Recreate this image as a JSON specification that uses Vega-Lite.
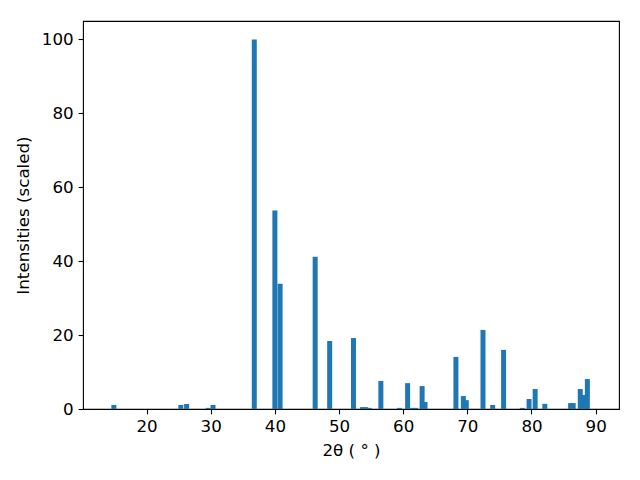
{
  "$schema": "https://vega.github.io/schema/vega-lite/v6.json",
  "width": 536,
  "height": 388,
  "autosize": {"type": "none"},
  "padding": {"left": 83, "top": 21, "right": 21, "bottom": 71},
  "background": "white",
  "config": {
    "view": {"stroke": "black", "strokeWidth": 1.1},
    "font": "DejaVu Sans",
    "axis": {
      "grid": false,
      "domain": false,
      "tickColor": "black",
      "tickSize": 4.9,
      "tickWidth": 1.1,
      "labelFont": "DejaVu Sans",
      "labelFontSize": 16.7,
      "labelColor": "black",
      "labelPadding": 4.9,
      "titleFont": "DejaVu Sans",
      "titleFontSize": 16.7,
      "titleFontWeight": "normal",
      "titleColor": "black"
    }
  },
  "data": {
    "values": [
      {"t": 14.9, "i": 1.1},
      {"t": 25.34, "i": 1.1},
      {"t": 26.24, "i": 1.35},
      {"t": 29.61, "i": 0.3},
      {"t": 30.36, "i": 1.1},
      {"t": 36.79, "i": 100},
      {"t": 40.0, "i": 53.7},
      {"t": 40.81, "i": 33.9},
      {"t": 46.28, "i": 41.2},
      {"t": 48.54, "i": 18.4},
      {"t": 52.25, "i": 19.2},
      {"t": 53.66, "i": 0.5},
      {"t": 54.16, "i": 0.5},
      {"t": 54.71, "i": 0.3},
      {"t": 56.52, "i": 7.6},
      {"t": 59.43, "i": 0.3},
      {"t": 60.69, "i": 7.0},
      {"t": 61.49, "i": 0.3},
      {"t": 61.9, "i": 0.3},
      {"t": 62.95, "i": 6.2},
      {"t": 63.4, "i": 1.9},
      {"t": 68.22, "i": 14.1},
      {"t": 69.38, "i": 3.5},
      {"t": 69.83, "i": 2.4},
      {"t": 72.44, "i": 21.4},
      {"t": 73.95, "i": 1.1},
      {"t": 75.65, "i": 16.0},
      {"t": 78.57, "i": 0.3},
      {"t": 79.62, "i": 2.7},
      {"t": 80.57, "i": 5.4},
      {"t": 82.08, "i": 1.4},
      {"t": 86.1, "i": 1.6},
      {"t": 86.5, "i": 1.6},
      {"t": 87.6, "i": 5.4},
      {"t": 88.11, "i": 3.8},
      {"t": 88.71, "i": 8.1}
    ]
  },
  "mark": {"type": "bar", "color": "#1f77b4", "width": 5, "stroke": null},
  "encoding": {
    "x": {
      "field": "t",
      "type": "quantitative",
      "scale": {"domain": [10.87, 92.86], "nice": false, "zero": false},
      "axis": {"title": "2θ ( ° )", "values": [20, 30, 40, 50, 60, 70, 80, 90], "titlePadding": 7}
    },
    "y": {
      "field": "i",
      "type": "quantitative",
      "scale": {"domain": [0, 105], "nice": false},
      "axis": {"title": "Intensities (scaled)", "values": [0, 20, 40, 60, 80, 100], "titlePadding": 9}
    }
  }
}
